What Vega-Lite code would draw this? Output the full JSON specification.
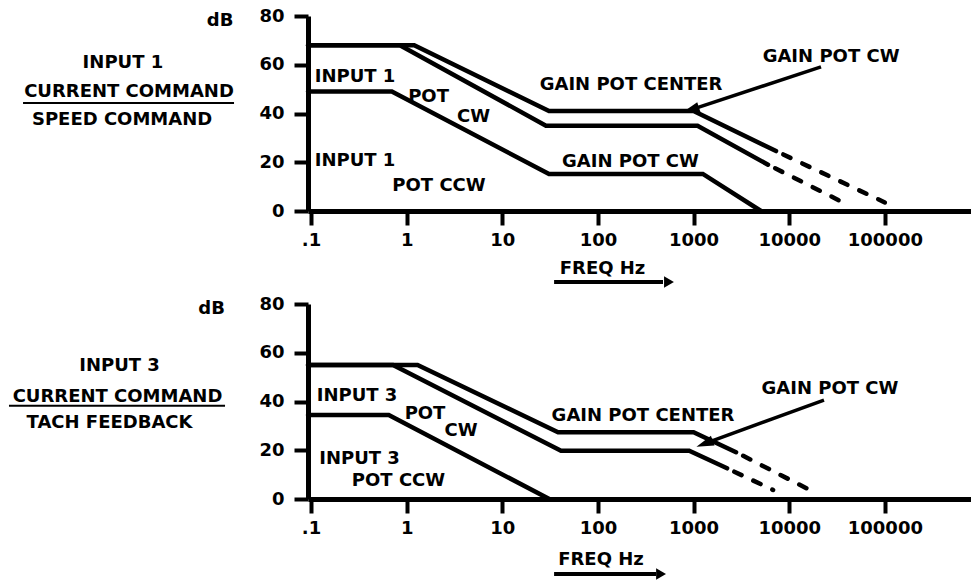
{
  "$schema": "https://vega.github.io/schema/vega-lite/v6.json",
  "background": "white",
  "padding": {"left": 7, "top": 7, "right": 0, "bottom": 0},
  "config": {
    "view": {"stroke": null},
    "axis": {
      "domainColor": "black", "domainWidth": 5, "tickColor": "black", "tickWidth": 4,
      "labelColor": "black", "labelFont": "DejaVu Sans", "labelFontWeight": "bold", "labelFontSize": 18,
      "grid": false
    },
    "text": {"font": "DejaVu Sans", "fontWeight": "bold", "fontSize": 18, "color": "black"}
  },
  "datasets": {
    "solid": [
      {"p":"top","s":"A","f":0.093,"db":68},{"p":"top","s":"A","f":1.2,"db":68},{"p":"top","s":"A","f":30.8,"db":41},{"p":"top","s":"A","f":1000,"db":41},{"p":"top","s":"A","f":7280,"db":24.6},
      {"p":"top","s":"B","f":0.093,"db":68},{"p":"top","s":"B","f":0.85,"db":68},{"p":"top","s":"B","f":28.6,"db":35},{"p":"top","s":"B","f":1100,"db":35},{"p":"top","s":"B","f":6000,"db":19},
      {"p":"top","s":"C","f":0.093,"db":49},{"p":"top","s":"C","f":0.7,"db":49},{"p":"top","s":"C","f":30.8,"db":15.2},{"p":"top","s":"C","f":1250,"db":15.2},{"p":"top","s":"C","f":5070,"db":0},
      {"p":"bottom","s":"A","f":0.093,"db":55},{"p":"bottom","s":"A","f":1.3,"db":55},{"p":"bottom","s":"A","f":38.3,"db":27.4},{"p":"bottom","s":"A","f":1000,"db":27.4},{"p":"bottom","s":"A","f":2780,"db":19.2},
      {"p":"bottom","s":"B","f":0.093,"db":55},{"p":"bottom","s":"B","f":0.72,"db":55},{"p":"bottom","s":"B","f":41.1,"db":19.8},{"p":"bottom","s":"B","f":900,"db":19.8},{"p":"bottom","s":"B","f":2240,"db":12.6},
      {"p":"bottom","s":"C","f":0.093,"db":34.5},{"p":"bottom","s":"C","f":0.65,"db":34.5},{"p":"bottom","s":"C","f":31,"db":0}
    ],
    "dashed": [
      {"p":"top","s":"A","f":7280,"db":24.6},{"p":"top","s":"A","f":100000,"db":3.5},
      {"p":"top","s":"B","f":6000,"db":19},{"p":"top","s":"B","f":41200,"db":2.5},
      {"p":"bottom","s":"A","f":2780,"db":19.2},{"p":"bottom","s":"A","f":15700,"db":4.1},
      {"p":"bottom","s":"B","f":2240,"db":12.6},{"p":"bottom","s":"B","f":6780,"db":3.7}
    ],
    "labels": [
      {"p":"top","label":"INPUT 1","f":0.2884,"db":56.2},
      {"p":"top","label":"POT","f":1.693,"db":47.8},
      {"p":"top","label":"CW","f":5.0,"db":39.5},
      {"p":"top","label":"INPUT 1","f":0.2884,"db":21.7},
      {"p":"top","label":"POT CCW","f":2.18,"db":11.1},
      {"p":"top","label":"GAIN POT CENTER","f":222,"db":52.7},
      {"p":"top","label":"GAIN POT CW","f":27400,"db":64.4},
      {"p":"top","label":"GAIN POT CW","f":219,"db":21.3},
      {"p":"top","label":"dB","f":0.01119,"db":78.8},
      {"p":"top","label":"INPUT 1","f":0.00108,"db":61.9},
      {"p":"top","label":"CURRENT COMMAND","f":0.00125,"db":50.0},
      {"p":"top","label":"SPEED COMMAND","f":0.001057,"db":38.4},
      {"p":"top","label":"FREQ Hz","f":111.7,"db":-22.6},
      {"p":"bottom","label":"INPUT 3","f":0.3027,"db":43.3},
      {"p":"bottom","label":"POT","f":1.556,"db":35.9},
      {"p":"bottom","label":"CW","f":3.70,"db":28.9},
      {"p":"bottom","label":"INPUT 3","f":0.3214,"db":17.4},
      {"p":"bottom","label":"POT CCW","f":0.822,"db":8.4},
      {"p":"bottom","label":"GAIN POT CENTER","f":296,"db":35.1},
      {"p":"bottom","label":"GAIN POT CW","f":26700,"db":46.2},
      {"p":"bottom","label":"dB","f":0.00912,"db":79.0},
      {"p":"bottom","label":"INPUT 3","f":0.000995,"db":55.6},
      {"p":"bottom","label":"CURRENT COMMAND","f":0.000948,"db":42.9},
      {"p":"bottom","label":"TACH FEEDBACK","f":0.000782,"db":32.4},
      {"p":"bottom","label":"FREQ Hz","f":107.6,"db":-24.0}
    ],
    "segs": [
      {"p":"top","kind":"underline","f":0.0000975,"db":44.3,"f2":0.01567,"db2":44.3},
      {"p":"top","kind":"callout","f":21500,"db":59.1,"f2":931,"db2":41.5},
      {"p":"top","kind":"freq","f":34.8,"db":-29.1,"f2":479,"db2":-29.1},
      {"p":"bottom","kind":"underline","f":0.0000695,"db":38.3,"f2":0.01262,"db2":38.3},
      {"p":"bottom","kind":"callout","f":23100,"db":40.6,"f2":1303,"db2":22.7},
      {"p":"bottom","kind":"freq","f":34.8,"db":-30.8,"f2":405,"db2":-30.8}
    ],
    "heads": [
      {"p":"top","kind":"callout","f":931,"db":41.5},
      {"p":"top","kind":"freq","f":553,"db":-29.1},
      {"p":"bottom","kind":"callout","f":1303,"db":22.7},
      {"p":"bottom","kind":"freq","f":457,"db":-30.8}
    ]
  },
  "spacing": 93,
  "bounds": "flush",
  "vconcat": [
    {
      "width": 664, "height": 195,
      "encoding": {
        "x": {"field": "f", "type": "quantitative",
              "scale": {"type": "log", "domain": [0.093, 815000], "nice": false},
              "axis": {"title": null, "values": [0.1, 1, 10, 100, 1000, 10000, 100000],
                       "labelExpr": "datum.value < 1 ? '.1' : format(datum.value, 'd')",
                       "tickSize": 14, "labelPadding": 6, "labelFlush": false, "labelOverlap": false}},
        "y": {"field": "db", "type": "quantitative",
              "scale": {"domain": [0, 80], "nice": false, "zero": false},
              "axis": {"title": null, "values": [0, 20, 40, 60, 80], "tickSize": 14, "labelPadding": 10}}
      },
      "layer": [
        {"data": {"name": "solid"}, "transform": [{"filter": "datum.p == 'top'"}],
         "mark": {"type": "line", "color": "black", "strokeWidth": 4.5, "strokeCap": "round"},
         "encoding": {"detail": {"field": "s"}}},
        {"data": {"name": "dashed"}, "transform": [{"filter": "datum.p == 'top'"}],
         "mark": {"type": "line", "color": "black", "strokeWidth": 4.5, "strokeCap": "round", "strokeDash": [8, 13], "strokeDashOffset": 13},
         "encoding": {"detail": {"field": "s"}}},
        {"data": {"name": "segs"}, "transform": [{"filter": "datum.p == 'top' && datum.kind == 'underline'"}],
         "mark": {"type": "rule", "color": "black", "strokeWidth": 2},
         "encoding": {"x2": {"field": "f2"}, "y2": {"field": "db2"}}},
        {"data": {"name": "segs"}, "transform": [{"filter": "datum.p == 'top' && datum.kind == 'callout'"}],
         "mark": {"type": "rule", "color": "black", "strokeWidth": 3.5},
         "encoding": {"x2": {"field": "f2"}, "y2": {"field": "db2"}}},
        {"data": {"name": "segs"}, "transform": [{"filter": "datum.p == 'top' && datum.kind == 'freq'"}],
         "mark": {"type": "rule", "color": "black", "strokeWidth": 4},
         "encoding": {"x2": {"field": "f2"}, "y2": {"field": "db2"}}},
        {"data": {"name": "heads"}, "transform": [{"filter": "datum.p == 'top' && datum.kind == 'callout'"}],
         "mark": {"type": "point", "shape": "M0,-1L0.6,1L-0.6,1Z", "angle": 252, "size": 300, "filled": true, "color": "black", "opacity": 1}},
        {"data": {"name": "heads"}, "transform": [{"filter": "datum.p == 'top' && datum.kind == 'freq'"}],
         "mark": {"type": "point", "shape": "triangle-right", "size": 130, "filled": true, "color": "black", "opacity": 1}},
        {"data": {"name": "labels"}, "transform": [{"filter": "datum.p == 'top'"}],
         "mark": {"type": "text", "align": "center", "baseline": "middle", "dy": 2.5},
         "encoding": {"text": {"field": "label"}}}
      ]
    },
    {
      "width": 664, "height": 195,
      "encoding": {
        "x": {"field": "f", "type": "quantitative",
              "scale": {"type": "log", "domain": [0.093, 815000], "nice": false},
              "axis": {"title": null, "values": [0.1, 1, 10, 100, 1000, 10000, 100000],
                       "labelExpr": "datum.value < 1 ? '.1' : format(datum.value, 'd')",
                       "tickSize": 14, "labelPadding": 6, "labelFlush": false, "labelOverlap": false}},
        "y": {"field": "db", "type": "quantitative",
              "scale": {"domain": [0, 80], "nice": false, "zero": false},
              "axis": {"title": null, "values": [0, 20, 40, 60, 80], "tickSize": 14, "labelPadding": 10}}
      },
      "layer": [
        {"data": {"name": "solid"}, "transform": [{"filter": "datum.p == 'bottom'"}],
         "mark": {"type": "line", "color": "black", "strokeWidth": 4.5, "strokeCap": "round"},
         "encoding": {"detail": {"field": "s"}}},
        {"data": {"name": "dashed"}, "transform": [{"filter": "datum.p == 'bottom'"}],
         "mark": {"type": "line", "color": "black", "strokeWidth": 4.5, "strokeCap": "round", "strokeDash": [8, 13], "strokeDashOffset": 13},
         "encoding": {"detail": {"field": "s"}}},
        {"data": {"name": "segs"}, "transform": [{"filter": "datum.p == 'bottom' && datum.kind == 'underline'"}],
         "mark": {"type": "rule", "color": "black", "strokeWidth": 2},
         "encoding": {"x2": {"field": "f2"}, "y2": {"field": "db2"}}},
        {"data": {"name": "segs"}, "transform": [{"filter": "datum.p == 'bottom' && datum.kind == 'callout'"}],
         "mark": {"type": "rule", "color": "black", "strokeWidth": 3.5},
         "encoding": {"x2": {"field": "f2"}, "y2": {"field": "db2"}}},
        {"data": {"name": "segs"}, "transform": [{"filter": "datum.p == 'bottom' && datum.kind == 'freq'"}],
         "mark": {"type": "rule", "color": "black", "strokeWidth": 4},
         "encoding": {"x2": {"field": "f2"}, "y2": {"field": "db2"}}},
        {"data": {"name": "heads"}, "transform": [{"filter": "datum.p == 'bottom' && datum.kind == 'callout'"}],
         "mark": {"type": "point", "shape": "M0,-1L0.6,1L-0.6,1Z", "angle": 250, "size": 300, "filled": true, "color": "black", "opacity": 1}},
        {"data": {"name": "heads"}, "transform": [{"filter": "datum.p == 'bottom' && datum.kind == 'freq'"}],
         "mark": {"type": "point", "shape": "triangle-right", "size": 130, "filled": true, "color": "black", "opacity": 1}},
        {"data": {"name": "labels"}, "transform": [{"filter": "datum.p == 'bottom'"}],
         "mark": {"type": "text", "align": "center", "baseline": "middle", "dy": 2.5},
         "encoding": {"text": {"field": "label"}}}
      ]
    }
  ]
}
